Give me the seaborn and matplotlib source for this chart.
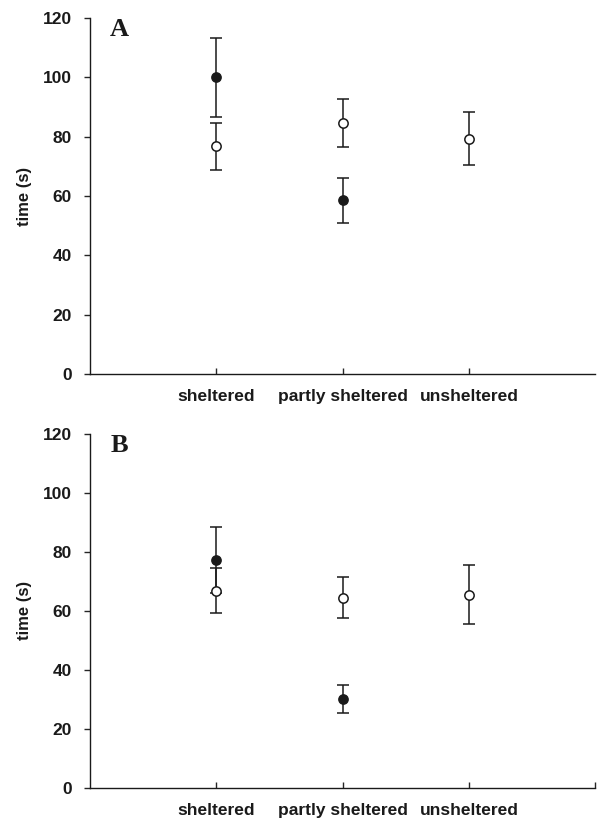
"""
plot.py - time (s) per shelter category, panels A and B
"""
import numpy as np
import pandas as pd
import matplotlib
matplotlib.use("Agg")
import matplotlib.pyplot as plt
import seaborn as sns

# categories on the x axis
categories = ["sheltered", "partly sheltered", "unsheltered"]

# panel A (filled = dark group, open = light group)
a_filled_mean = [100.0, 58.6, np.nan]
a_filled_err = [13.3, 7.6, np.nan]
a_open_mean = [76.8, 84.5, 79.3]
a_open_err = [7.9, 8.1, 9.0]

# panel B
b_filled_mean = [77.3, 30.1, np.nan]
b_filled_err = [11.2, 4.6, np.nan]
b_open_mean = [66.8, 64.5, 65.5]
b_open_err = [7.7, 7.0, 10.0]

y_ticks = [0, 20, 40, 60, 80, 100, 120]

sns.set_style("ticks")
plt.rcParams["font.family"] = ["Liberation Sans", "DejaVu Sans"]

fig = plt.figure(figsize=(5.98, 8.21), dpi=100)
ax_a = fig.add_axes([0.1505, 0.5445, 0.845, 0.4335])
ax_b = fig.add_axes([0.1505, 0.0406, 0.845, 0.4308])


def draw_panel(ax, filled_m, filled_e, open_m, open_e, letter, end_tick):
    x = np.arange(1, len(categories) + 1)
    df = pd.DataFrame({
        "pos": np.concatenate([x, x]),
        "time": np.concatenate([filled_m, open_m]),
        "err": np.concatenate([filled_e, open_e]),
        "group": ["filled"] * len(x) + ["open"] * len(x),
    }).dropna()

    # error bars first (filled behind open)
    for grp, z in [("filled", 2), ("open", 4)]:
        d = df[df["group"] == grp]
        ax.errorbar(d["pos"], d["time"], yerr=d["err"], fmt="none",
                    ecolor="#1a1a1a", elinewidth=1.1, capsize=4.5,
                    capthick=1.1, zorder=z)

    sns.scatterplot(data=df[df["group"] == "filled"], x="pos", y="time",
                    ax=ax, color="#1a1a1a", edgecolor="#1a1a1a",
                    s=45, linewidth=1.0, zorder=3, legend=False)
    sns.scatterplot(data=df[df["group"] == "open"], x="pos", y="time",
                    ax=ax, color="white", edgecolor="#1a1a1a",
                    s=45, linewidth=1.1, zorder=5, legend=False)

    ax.set_xlim(0, 4)
    ax.set_ylim(0, 120)
    ax.set_yticks(y_ticks)
    ax.set_yticklabels([str(t) for t in y_ticks], fontsize=12.5,
                       fontweight="bold", color="#1a1a1a")
    if end_tick:
        ax.set_xticks(list(x) + [4])
        ax.set_xticklabels(categories + [""], fontsize=12.5,
                           fontweight="bold", color="#1a1a1a")
    else:
        ax.set_xticks(x)
        ax.set_xticklabels(categories, fontsize=12.5, fontweight="bold",
                           color="#1a1a1a")
    ax.tick_params(axis="x", direction="in", length=4, width=1, pad=11)
    ax.tick_params(axis="y", direction="out", length=4, width=1, pad=9)
    ax.set_xlabel("")
    ax.set_ylabel("time (s)", fontsize=12, fontweight="bold",
                  color="#1a1a1a", labelpad=8)
    sns.despine(ax=ax)
    for sp in ["left", "bottom"]:
        ax.spines[sp].set_linewidth(1.0)
        ax.spines[sp].set_color("#1a1a1a")

    ax.text(0.04, 1.0, letter, transform=ax.transAxes, ha="left", va="top",
            fontsize=19, fontweight="bold", family="Liberation Serif",
            color="#1a1a1a")


draw_panel(ax_a, a_filled_mean, a_filled_err, a_open_mean, a_open_err, "A", False)
draw_panel(ax_b, b_filled_mean, b_filled_err, b_open_mean, b_open_err, "B", True)

fig.savefig("out.png", dpi=100)
plt.close(fig)
